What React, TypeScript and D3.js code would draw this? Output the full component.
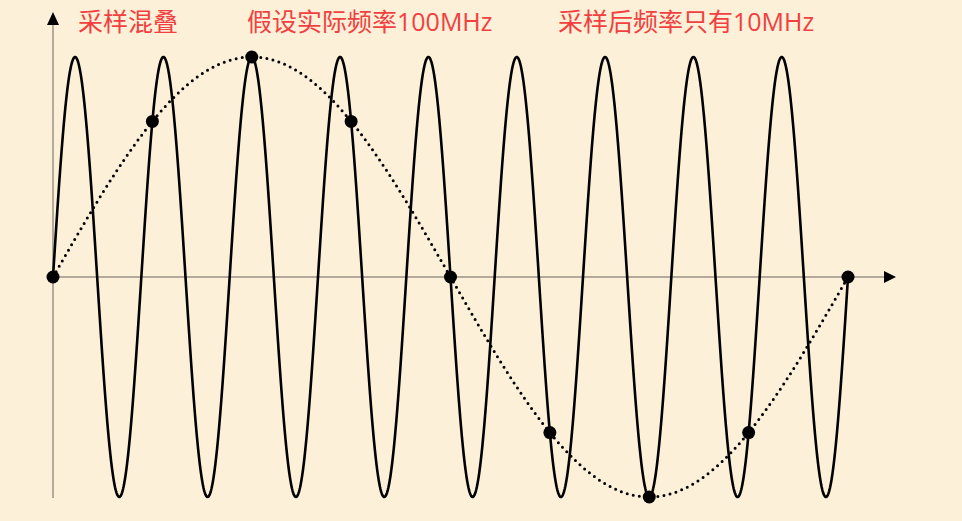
import * as d3 from 'd3';
import { useEffect, useRef } from 'react';

// titles drawn across the top
const titles = ['采样混叠', '假设实际频率100MHz', '采样后频率只有10MHz'];
const titleX = [78, 247, 558];

// sample instants (in sample periods) and the sampled values
const sampleIndex = [0, 1, 2, 3, 4, 5, 6, 7, 8];
const sampleValues = [0, 0.707, 1, 0.707, 0, -0.707, -1, -0.707, 0];

// real signal: 9 cycles over the 8 sample periods; alias: 1 cycle
const signalCycles = 9;
const aliasCycles = 1;
const spanSamples = 8;

const W = 962, H = 521;

export default function App() {
  const ref = useRef<SVGSVGElement>(null);

  useEffect(() => {
    document.body.style.margin = '0';
    const svg = d3.select(ref.current).html('');

    const x = d3.scaleLinear().domain([0, spanSamples]).range([53, 848]);
    const y = d3.scaleLinear().domain([-1, 1]).range([497, 57]);

    svg.append('rect').attr('width', W).attr('height', H).attr('fill', '#fdf0d8');

    // axes
    svg.append('line')
      .attr('x1', x(0)).attr('x2', 886)
      .attr('y1', y(0)).attr('y2', y(0))
      .attr('stroke', '#9a9384').attr('stroke-width', 1.5);
    svg.append('path')
      .attr('d', `M884,${y(0) - 6}L896,${y(0)}L884,${y(0) + 6}Z`)
      .attr('fill', '#000');
    svg.append('line')
      .attr('x1', x(0)).attr('x2', x(0))
      .attr('y1', 498).attr('y2', 23)
      .attr('stroke', '#9a9384').attr('stroke-width', 1.5);
    svg.append('path')
      .attr('d', `M${x(0) - 6},25L${x(0)},12L${x(0) + 6},25Z`)
      .attr('fill', '#000');

    const ts = d3.range(0, spanSamples + 0.0001, spanSamples / 1600);
    const line = d3.line<number[]>().x(d => x(d[0])).y(d => y(d[1])).curve(d3.curveLinear);

    const signal = ts.map(t => [t, Math.sin(2 * Math.PI * signalCycles * t / spanSamples)]);
    svg.append('path')
      .attr('d', line(signal))
      .attr('fill', 'none')
      .attr('stroke', '#000')
      .attr('stroke-width', 2.6);

    const alias = ts.map(t => [t, Math.sin(2 * Math.PI * aliasCycles * t / spanSamples)]);
    svg.append('path')
      .attr('d', line(alias))
      .attr('fill', 'none')
      .attr('stroke', '#000')
      .attr('stroke-width', 3)
      .attr('stroke-linecap', 'round')
      .attr('stroke-dasharray', '0 6.2');

    svg.selectAll('.dot')
      .data(sampleIndex)
      .enter().append('circle')
      .attr('class', 'dot')
      .attr('cx', d => x(d))
      .attr('cy', (d, i) => y(sampleValues[i]))
      .attr('r', 6.5)
      .attr('fill', '#000');

    svg.selectAll('.title')
      .data(titles)
      .enter().append('text')
      .attr('class', 'title')
      .attr('x', (d, i) => titleX[i])
      .attr('y', 31)
      .attr('fill', '#f0403f')
      .attr('font-size', 25)
      .attr('font-family', '"Open Sans", "Noto Sans CJK SC", sans-serif')
      .text(d => d);
  }, []);

  return (
    <svg ref={ref} width={W} height={H} style={{ display: 'block' }}></svg>
  );
}
